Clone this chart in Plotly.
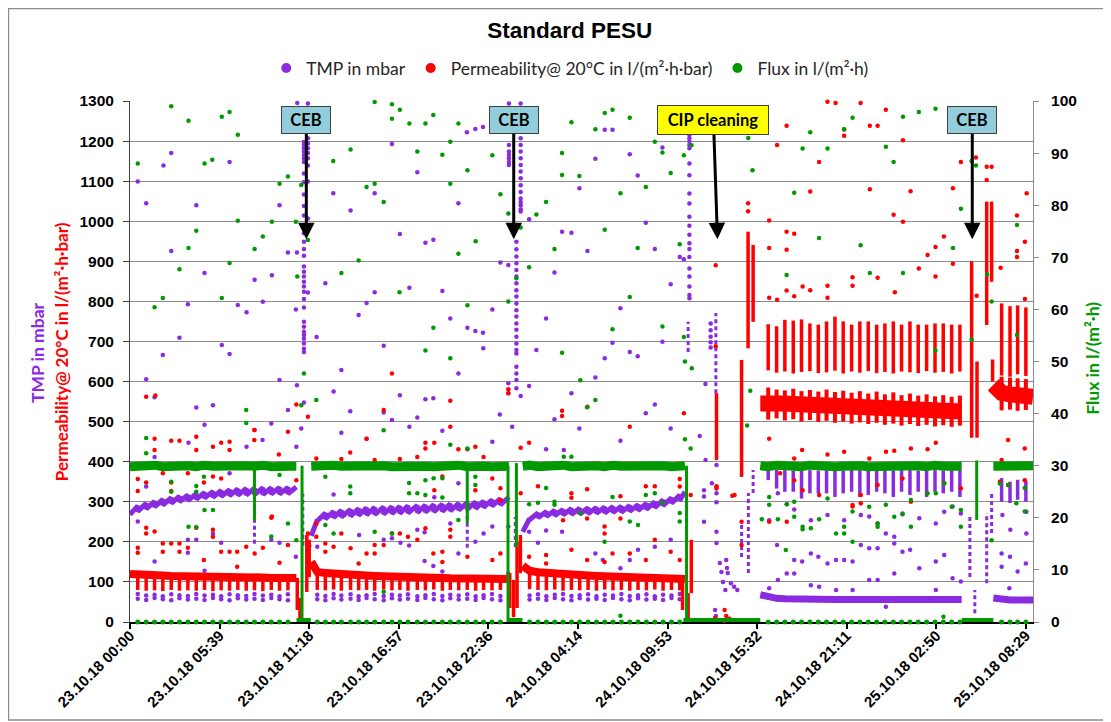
import plotly.graph_objects as go

PURPLE = "#8A2BE2"
RED = "#FF0000"
GREEN = "#009A00"

# ---------------- axis ----------------
tick_hours = [0, 5.65, 11.3, 16.95, 22.6, 28.25, 33.9, 39.55, 45.2, 50.85, 56.5]
tick_labels = ["23.10.18 00:00", "23.10.18 05:39", "23.10.18 11:18", "23.10.18 16:57",
               "23.10.18 22:36", "24.10.18 04:14", "24.10.18 09:53", "24.10.18 15:32",
               "24.10.18 21:11", "25.10.18 02:50", "25.10.18 08:29"]

# ---------------- filtration segment 1 (hours since 23.10.18 00:00) ----------------
s1_t = [0.00, 0.49, 1.02, 1.55, 2.07, 2.60, 3.12, 3.65, 4.18, 4.70, 5.23, 5.75, 6.28, 6.80, 7.33, 7.85, 8.38, 8.91, 9.43, 9.96, 10.49]
s1_tmp_lo = [268, 276, 282, 287, 292, 296, 300, 303, 306, 309, 311, 313, 315, 316, 317, 318, 318, 319, 319, 320]
s1_tmp_hi = [290, 296, 301, 306, 310, 314, 317, 320, 323, 326, 328, 330, 332, 333, 334, 335, 335, 336, 336, 337]
s1_perm = [120, 118, 117, 116, 116, 115, 115, 114, 114, 113, 113, 112, 112, 112, 111, 111, 111, 110, 110, 110, 110]
s1_perm_bw = [80, 78, 79, 77, 80, 78, 79, 78, 80, 77, 79, 78, 80, 78, 79, 77, 80, 78, 79]
s1_flux = [29.8, 30.0, 29.9, 30.1, 29.8, 30.0, 29.9, 30.0, 29.8, 30.1, 29.9, 30.0, 29.8, 29.9, 30.0, 29.9, 30.1, 29.8, 30.0, 29.9, 29.9]
s1_tmp_bw = [70, 66, 68, 64, 69, 67, 65, 70, 66, 68, 64, 69, 67, 65, 70, 66, 68, 64, 69]
s1_tmp_bw2 = [58, 55, 60, 57, 54, 59, 56, 58, 55, 60, 57, 54, 59, 56, 58, 55, 60, 57, 54]

# ---------------- filtration segment 2 ----------------
s2_t = [11.43, 11.81, 12.32, 12.84, 13.33, 13.91, 14.42, 14.92, 15.43, 16.00, 16.52, 17.02, 17.53, 18.12, 18.63, 19.16, 19.70, 20.20, 20.73, 21.27, 21.80, 22.30, 22.83, 23.36, 23.90]
s2_tmp_lo = [215, 252, 257, 260, 262, 264, 266, 267, 268, 269, 270, 271, 272, 273, 274, 275, 276, 277, 279, 281, 283, 286, 289, 292]
s2_tmp_hi = [255, 272, 276, 279, 281, 283, 285, 286, 287, 288, 289, 290, 291, 292, 293, 294, 295, 296, 298, 300, 302, 305, 308, 312]
s2_perm = [150, 125, 122, 120, 119, 118, 117, 116, 115, 114, 114, 113, 112, 112, 111, 110, 110, 109, 109, 108, 108, 108, 107, 107, 107]
s2_perm_bw = [80, 79, 81, 78, 80, 79, 80, 78, 81, 79, 80, 78, 80, 79, 81, 78, 80, 79, 80, 78, 80, 79, 80]
s2_flux = [29.9, 30.0, 29.8, 30.1, 29.9, 30.0, 29.8, 29.9, 30.1, 30.0, 29.8, 29.9, 30.0, 30.1, 29.9, 29.8, 30.0, 29.9, 30.1, 29.8, 30.0, 29.9, 29.8, 30.0, 29.9]
s2_tmp_bw = [68, 65, 70, 66, 69, 64, 67, 70, 65, 68, 66, 69, 64, 67, 70, 65, 68, 66, 69, 64, 67, 70, 65]
s2_tmp_bw2 = [57, 54, 59, 56, 58, 55, 60, 57, 54, 59, 56, 58, 55, 60, 57, 54, 59, 56, 58, 55, 60, 57, 54]

# ---------------- filtration segment 3 ----------------
s3_t = [24.77, 25.20, 25.73, 26.26, 26.79, 27.31, 27.84, 28.36, 28.89, 29.42, 29.94, 30.46, 30.99, 31.52, 32.04, 32.57, 33.10, 33.62, 34.15, 34.67, 35.00]
s3_tmp_lo = [225, 255, 260, 263, 265, 267, 268, 269, 270, 271, 272, 273, 274, 276, 278, 281, 285, 290, 296, 303]
s3_tmp_hi = [258, 272, 276, 279, 281, 283, 284, 285, 286, 287, 288, 289, 291, 293, 296, 300, 305, 310, 317, 325]
s3_perm = [140, 128, 124, 122, 120, 119, 118, 117, 116, 115, 114, 113, 112, 112, 111, 110, 110, 109, 108, 108, 107]
s3_perm_bw = [82, 80, 79, 81, 78, 80, 79, 80, 78, 81, 79, 80, 78, 80, 79, 81, 78, 80, 79]
s3_flux = [29.9, 30.1, 29.8, 30.0, 29.9, 30.1, 29.8, 30.0, 29.9, 30.0, 29.8, 30.1, 29.9, 30.0, 29.8, 29.9, 30.1, 30.0, 29.8, 29.9, 30.0]
s3_tmp_bw = [66, 69, 64, 68, 70, 65, 67, 69, 64, 68, 66, 70, 65, 67, 69, 64, 68, 66, 70]
s3_tmp_bw2 = [56, 58, 55, 60, 57, 54, 59, 56, 58, 55, 60, 57, 54, 59, 56, 58, 55, 60, 57]

# ---------------- filtration segment 4 (after CIP) ----------------
s4_t = [39.75, 40.25, 40.78, 41.30, 41.83, 42.35, 42.88, 43.41, 43.93, 44.46, 44.98, 45.51, 46.03, 46.56, 47.09, 47.61, 48.14, 48.66, 49.19, 49.71, 50.24, 50.77, 51.29, 51.82, 52.34, 52.45]
s4_tmp = [68, 62, 59, 58, 57, 57, 57, 56, 56, 56, 56, 56, 56, 56, 56, 56, 56, 56, 56, 56, 56, 56, 56, 56, 56, 56]
s4_tmp_bar_lo = [354, 333, 325, 325, 308, 321, 321, 321, 312, 321, 325, 312, 317, 325, 321, 312, 325, 317, 325, 312, 325, 321, 325, 312]
s4_tmp_bar_hi = [378, 380, 379, 378, 380, 379, 378, 380, 379, 378, 380, 379, 378, 380, 379, 378, 380, 379, 378, 380, 379, 378, 380, 379]
s4_perm = [545, 548, 546, 545, 544, 543, 542, 541, 540, 540, 539, 538, 537, 536, 535, 534, 533, 532, 531, 530, 529, 528, 527, 526, 525, 525]
s4_perm_lo = [505, 508, 503, 506, 500, 504, 499, 502, 497, 500, 495, 498, 494, 497, 492, 495, 490, 494, 489, 492, 488, 491, 487, 490]
s4_perm_hi = [585, 580, 578, 582, 576, 579, 575, 580, 574, 577, 572, 576, 570, 575, 568, 573, 566, 570, 565, 568, 563, 566, 562, 565]
s4_perm_up_lo = [628, 622, 625, 620, 624, 626, 621, 623, 627, 620, 625, 622, 626, 621, 624, 620, 625, 623, 621, 626, 622, 624, 620, 625]
s4_perm_up_hi = [743, 738, 754, 752, 755, 745, 742, 750, 762, 750, 742, 750, 750, 742, 745, 750, 742, 750, 742, 742, 745, 745, 742, 742]
s4_flux = [30.0, 29.8, 30.1, 29.9, 30.0, 29.8, 30.1, 29.9, 30.0, 29.8, 29.9, 30.1, 30.0, 29.8, 29.9, 30.0, 30.1, 29.8, 29.9, 30.0, 29.8, 30.1, 29.9, 30.0, 29.8, 29.9]

# ---------------- filtration segment 5 (after last CEB) ----------------
s5_t = [54.45, 54.97, 55.50, 55.98, 56.50, 56.95]
s5_tmp = [60, 56, 55, 55, 55, 55]
s5_tmp_bar_lo = [300, 297, 305, 300]
s5_tmp_bar_hi = [359, 350, 355, 352]
s5_perm = [592, 572, 568, 565, 563, 562]
s5_perm_lo = [528, 530, 527, 529]
s5_perm_hi = [612, 610, 608, 606]
s5_perm_up_lo = [615, 612, 618, 614]
s5_perm_up_hi = [795, 788, 790, 785]
s5_flux = [29.9, 30.0, 29.8, 30.0, 29.9, 30.0]

# ---------------- cleaning events: vertical ranges ----------------
ev_tmp_t = [7.85, 21.27, 10.90, 24.30, 35.10, 35.20, 38.57, 38.57, 39.00, 39.30, 52.97, 53.28, 54.03, 54.34, 36.95]
ev_tmp_lo = [195, 185, 190, 187, 196, 674, 362, 162, 122, 322, 112, 22, 97, 222, 571]
ev_tmp_hi = [310, 297, 320, 262, 321, 749, 504, 254, 322, 379, 262, 80, 272, 324, 771]

ev_perm_t = [10.55, 10.72, 11.15, 11.30, 23.95, 24.19, 24.41, 24.62, 34.85, 35.20, 35.40, 36.99, 38.57, 38.98, 39.30, 53.08, 53.42, 54.03, 54.34, 54.40]
ev_perm_lo = [30, 10, 75, 112, 35, 12, 35, 122, 30, 5, 72, 404, 363, 683, 749, 460, 460, 741, 849, 600]
ev_perm_hi = [110, 60, 217, 205, 122, 105, 200, 217, 112, 72, 205, 571, 654, 974, 941, 900, 650, 1049, 1049, 655]

ev_flux_t = [7.85, 10.85, 21.27, 23.84, 24.37, 35.10, 53.40]
ev_flux_lo = [19.5, 0, 19, 0, 14.4, 0, 19.6]
ev_flux_hi = [30, 30, 30, 30, 30.5, 30, 31]

zero_flux_start = [10.50, 23.80, 34.90, 52.45]
zero_flux_end = [11.40, 24.75, 39.75, 54.45]

# dotted TMP columns during CEB / CIP
col_tmp_times = [10.97, 11.22, 23.90, 24.64, 24.37, 35.28, 36.62]
col_tmp_values = [
    [1198, 1190, 1182, 1174, 1165, 1157, 1148, 1119, 1097, 1067, 1038, 1014, 990, 970, 949, 931, 914, 887, 874, 862, 849, 837, 824, 806, 785, 749, 737, 724, 716, 707, 695, 682, 674],
    [1294, 1207, 1194, 1182, 1170, 1157, 1139, 1099, 1007, 822],
    [1294, 1190, 1174, 1165, 1157, 1148, 1140],
    [1294, 1207, 1190, 1174, 1157, 1140, 1124, 1107, 1090, 1073, 1057, 1048, 1040, 1030, 1024],
    [949, 930, 912, 895, 878, 862, 845, 828, 812, 795, 778, 762, 745, 729, 712, 695, 679, 670, 637, 620, 604, 583],
    [1215, 1207, 1199, 1190, 1182, 1144, 1115, 1069, 1044, 1011, 989, 966, 945, 931, 911, 882, 862, 837, 816, 808],
    [745, 728, 712, 698, 685],
]

# ---------------- scattered single readings ----------------
tmp_scatter = [
    (2.60, 1170), (2.11, 1139), (6.28, 1148), (0.49, 1099), (1.02, 1045), (4.18, 1040), (9.43, 1040), (2.60, 926),
    (4.70, 871), (7.86, 854), (8.95, 865), (9.96, 922), (10.53, 922), (3.12, 709), (2.07, 666), (5.79, 691),
    (6.28, 669), (3.65, 793), (6.80, 791), (7.35, 773), (8.38, 799), (10.46, 780), (11.77, 711), (12.32, 845),
    (12.82, 1070), (13.91, 1027), (15.43, 1070), (18.12, 1122), (16.52, 1193), (15.43, 823), (14.92, 796),
    (14.42, 766), (16.00, 689), (17.62, 834), (17.02, 968), (18.63, 946), (19.13, 954), (10.55, 1295),
    (21.25, 1222), (21.78, 1230), (22.26, 1235), (29.35, 1156), (29.94, 1228), (30.43, 1228), (31.52, 1167),
    (33.58, 1184), (32.02, 1114), (28.34, 1082), (20.71, 1045), (25.17, 1005), (27.25, 974), (27.84, 971),
    (28.85, 926), (32.53, 996), (33.10, 931), (23.36, 897), (23.86, 891), (26.77, 872), (19.70, 826), (34.10, 843),
    (34.67, 911), (34.93, 905), (30.93, 783), (22.85, 780), (20.20, 757), (21.28, 734), (21.78, 726), (22.26, 722),
    (26.24, 757), (33.58, 699), (30.43, 697), (22.28, 683), (25.63, 679), (29.94, 658), (31.52, 674), (32.02, 663),
    (1.02, 606), (1.55, 561), (4.18, 535), (4.70, 492), (5.23, 541), (9.43, 604), (9.96, 529), (10.53, 591),
    (10.97, 548), (10.80, 483), (8.91, 495), (7.86, 479), (8.36, 454), (7.35, 437), (3.69, 447), (12.84, 575),
    (13.33, 629), (13.89, 526), (13.33, 472), (14.92, 457), (16.00, 523), (16.52, 504), (17.02, 566), (17.62, 487),
    (18.12, 510), (18.63, 556), (19.13, 558), (1.55, 412), (1.02, 338), (0.49, 251), (3.65, 205), (4.18, 205),
    (5.23, 221), (5.75, 198), (6.28, 371), (8.91, 205), (9.43, 198), (10.49, 437), (10.46, 163), (11.31, 190),
    (11.81, 188), (12.84, 318), (14.45, 217), (16.00, 205), (16.52, 209), (17.06, 198), (18.58, 152), (19.13, 140),
    (18.58, 224), (18.12, 230), (17.60, 191), (1.55, 151), (3.65, 173), (4.70, 128),
    (20.71, 620), (19.70, 477), (23.32, 518), (23.86, 596), (23.86, 571), (24.64, 564), (25.17, 589), (22.85, 450),
    (24.10, 487), (26.24, 431), (26.77, 506), (27.84, 571), (28.34, 483), (29.35, 610), (30.93, 452), (32.53, 521),
    (33.10, 543), (34.10, 483), (35.93, 464), (36.29, 594), (36.30, 404), (36.99, 392), (36.70, 346), (36.99, 321),
    (36.20, 329), (36.20, 313), (36.20, 250), (27.36, 429), (20.71, 346), (19.19, 311), (20.20, 246), (22.30, 221),
    (22.85, 238), (21.78, 200), (23.86, 238), (25.17, 225), (25.73, 198), (26.24, 228), (27.25, 225), (29.35, 171),
    (29.82, 155), (31.52, 155), (32.04, 180), (34.10, 205), (33.10, 188), (19.70, 126), (20.71, 171), (23.86, 121),
    (30.93, 134),
    (36.90, 30), (36.95, 15), (37.00, 5), (37.20, 147), (37.30, 125), (37.40, 100), (37.55, 80), (37.60, 155),
    (37.65, 135), (37.70, 122), (37.90, 97), (38.10, 88), (38.30, 80), (36.99, 337), (36.99, 299), (36.99, 225),
    (36.99, 197),
    (40.31, 254), (40.86, 321), (41.42, 294), (41.89, 281), (42.94, 254), (43.99, 267), (45.04, 254), (46.09, 267),
    (46.62, 263), (47.15, 246), (47.67, 221), (48.20, 213), (48.72, 271), (49.78, 259), (50.82, 246), (51.35, 275),
    (52.40, 271), (51.88, 288), (55.02, 267), (55.52, 230), (56.53, 221), (56.53, 275), (40.81, 192), (41.89, 155),
    (42.39, 151), (42.94, 171), (43.41, 163), (43.99, 146), (44.53, 155), (45.04, 155), (45.57, 151), (46.09, 192),
    (46.62, 184), (47.15, 184), (48.20, 196), (48.72, 175), (49.20, 180), (49.78, 134), (50.82, 151), (51.35, 167),
    (51.88, 109), (52.40, 101), (46.62, 105), (47.15, 105), (48.20, 121), (41.42, 121), (41.89, 121), (40.86, 105),
    (42.94, 92), (54.97, 171), (55.50, 163), (54.97, 138), (55.98, 126), (56.50, 146), (55.46, 84), (40.31, 84),
    (43.46, 88), (44.53, 80), (45.57, 80), (47.67, 38), (50.82, 80),
]

perm_scatter = [
    (1.02, 562), (1.60, 565), (16.52, 620), (16.00, 529), (11.22, 512), (10.49, 543), (9.96, 475), (7.84, 479),
    (7.84, 454), (4.18, 462), (4.18, 429), (2.60, 452), (3.12, 452), (1.55, 457), (1.55, 429), (5.23, 437),
    (5.75, 447), (6.28, 450), (6.28, 429), (9.39, 418), (11.75, 408), (13.33, 407), (13.89, 423), (14.92, 457),
    (15.43, 404), (17.02, 407), (18.63, 447), (18.63, 433), (18.12, 412), (0.49, 357), (0.49, 327), (1.02, 348),
    (2.60, 348), (2.60, 327), (5.23, 363), (5.75, 358), (2.07, 371), (3.65, 371), (4.66, 348), (1.02, 235),
    (1.02, 221), (1.55, 226), (0.49, 185), (0.49, 173), (2.07, 196), (2.07, 175), (2.60, 196), (3.12, 196),
    (3.12, 175), (3.65, 185), (4.18, 235), (4.66, 155), (5.23, 230), (5.23, 213), (5.75, 175), (6.28, 175),
    (6.76, 175), (6.76, 138), (7.33, 188), (7.86, 171), (8.38, 185), (8.91, 260), (9.43, 148), (9.96, 192),
    (11.22, 221), (11.75, 213), (12.32, 196), (12.32, 175), (12.84, 188), (13.33, 221), (13.91, 184), (14.42, 146),
    (14.92, 171), (15.43, 192), (15.43, 171), (16.00, 192), (16.52, 221), (17.02, 221), (17.53, 213), (18.12, 205),
    (18.63, 234), (19.13, 171), (8.95, 263), (10.49, 354), (11.75, 246),
    (20.20, 552), (20.20, 487), (19.19, 447), (23.86, 581), (23.86, 571), (25.17, 447), (24.64, 435), (27.25, 527),
    (27.25, 514), (28.85, 537), (31.52, 487), (34.93, 521), (21.28, 431), (22.30, 412), (21.78, 437), (20.71, 431),
    (19.19, 329), (19.70, 363), (21.78, 329), (22.85, 358), (23.36, 334), (23.36, 304), (25.73, 339), (24.64, 321),
    (27.84, 321), (27.84, 310), (28.83, 331), (30.93, 314), (32.53, 339), (33.10, 339), (34.67, 338), (34.67, 357),
    (29.93, 238), (29.93, 221), (28.83, 258), (30.93, 258), (27.31, 254), (26.24, 167), (26.24, 146), (19.70, 175),
    (19.70, 150), (20.20, 230), (20.20, 213), (21.28, 163), (22.85, 155), (23.36, 171), (25.17, 163), (27.84, 180),
    (28.83, 155), (29.93, 150), (30.43, 171), (31.52, 171), (32.53, 155), (33.10, 205), (34.10, 175), (34.67, 155),
    (35.36, 317), (36.99, 339), (36.99, 333),
    (36.94, 890), (36.94, 688), (36.90, 10), (37.20, 5), (37.50, 3), (37.80, 8), (37.50, 30), (37.60, 15),
    (38.13, 317), (38.57, 250), (38.57, 192),
    (43.99, 1298), (44.50, 1295), (46.08, 1295), (47.67, 1278), (41.41, 1238), (46.66, 1238), (47.15, 1238),
    (45.04, 1213), (45.04, 1229), (40.81, 1190), (48.75, 1202), (43.46, 1148), (52.40, 1148), (42.90, 1074),
    (46.66, 1080), (49.23, 1075), (51.90, 1082), (56.55, 1070), (48.16, 1016), (48.75, 999), (40.31, 1002),
    (41.41, 974), (41.89, 969), (40.31, 933), (41.41, 929), (51.33, 962), (50.80, 936), (50.30, 916), (51.90, 894),
    (49.75, 882), (45.57, 860), (47.15, 859), (50.80, 862), (45.57, 839), (42.42, 837), (42.90, 828), (43.99, 839),
    (41.41, 827), (41.89, 813), (40.31, 809), (40.81, 804), (43.99, 809), (48.24, 823), (53.40, 814), (54.91, 884),
    (55.94, 926), (55.94, 911), (55.94, 1014), (56.44, 949), (56.44, 806), (38.98, 1045), (38.98, 1025),
    (54.03, 1103), (54.03, 1136), (54.34, 1136), (53.35, 1159),
    (40.31, 457), (37.99, 315), (42.39, 429), (41.89, 408), (43.99, 418), (45.04, 425), (46.63, 408), (47.68, 425),
    (48.20, 427), (49.25, 433), (50.30, 431), (50.82, 447), (55.38, 454), (56.43, 433), (54.97, 404), (41.00, 371),
    (41.89, 354), (42.42, 329), (43.46, 317), (45.57, 288), (46.09, 317), (47.15, 342), (48.72, 358), (49.25, 300),
    (51.35, 346), (52.40, 334), (54.86, 350), (55.38, 342), (56.43, 354), (40.31, 250), (41.42, 250), (45.57, 292),
    (46.09, 296),
]

flux_scatter = [
    (2.60, 99.0), (3.69, 96.2), (5.79, 97.0), (6.28, 97.9), (6.80, 93.5), (0.49, 88.0), (4.70, 88.0), (5.19, 88.7),
    (9.96, 85.5), (9.43, 84.1), (10.80, 83.9), (6.80, 77.0), (8.95, 76.8), (10.46, 76.8), (4.18, 75.1), (8.38, 74.0),
    (7.86, 71.6), (3.69, 71.8), (6.28, 68.9), (3.12, 67.7), (10.55, 66.3), (13.33, 67.0), (14.42, 69.4), (2.07, 62.2),
    (1.55, 60.4), (5.79, 62.2), (17.00, 63.3), (15.43, 84.1), (14.92, 83.5), (16.00, 80.6), (12.82, 88.5),
    (13.91, 90.7), (18.12, 90.3), (15.43, 99.8), (16.52, 99.4), (17.02, 98.3), (16.52, 96.6), (17.62, 95.7),
    (18.63, 95.7), (19.13, 97.3), (19.13, 56.5), (18.63, 52.1), (11.22, 73.3),
    (20.71, 95.7), (20.20, 92.2), (19.70, 89.7), (22.85, 89.6), (21.28, 86.7), (20.20, 84.1), (23.36, 82.1),
    (23.86, 78.4), (25.63, 78.2), (26.24, 80.6), (27.25, 90.0), (27.25, 85.8), (28.34, 85.6), (27.84, 95.9),
    (29.35, 94.6), (29.94, 97.7), (30.43, 98.3), (31.52, 96.8), (30.93, 82.3), (32.53, 83.5), (33.10, 92.2),
    (33.58, 90.1), (34.10, 86.2), (34.93, 89.6), (35.41, 91.5), (29.94, 75.3), (26.77, 71.6), (25.17, 68.1),
    (21.80, 73.1), (20.71, 70.7), (32.02, 71.8), (34.67, 72.5), (31.52, 62.4), (23.86, 61.5), (21.28, 60.8),
    (30.43, 56.2), (33.58, 56.7), (34.93, 54.7), (20.20, 50.6), (27.25, 51.7), (35.00, 50.0), (24.64, 75.7),
    (24.37, 66.0),
    (1.02, 35.3), (1.02, 32.4), (2.60, 26.9), (2.60, 25.0), (4.18, 26.1), (4.18, 25.0), (4.66, 27.9), (5.23, 21.5),
    (4.70, 21.5), (3.69, 18.3), (4.18, 18.2), (7.33, 40.7), (7.33, 38.2), (8.91, 16.4), (9.43, 28.2), (9.96, 18.9),
    (10.49, 15.7), (10.80, 41.6), (10.97, 47.7), (11.75, 42.6), (12.32, 27.9), (12.32, 18.6), (12.84, 17.0),
    (13.89, 26.0), (13.89, 24.7), (15.43, 17.3), (16.00, 36.8), (16.52, 17.0), (17.60, 26.7), (17.60, 24.7),
    (18.12, 24.7), (18.63, 27.2), (18.63, 24.4), (16.00, 5.8),
    (28.40, 46.4), (29.35, 42.6), (28.83, 41.2), (20.20, 34.0), (21.28, 33.3), (35.43, 48.7), (35.00, 35.1),
    (35.36, 33.3), (27.36, 31.7), (27.84, 31.7), (19.15, 27.6), (19.70, 27.6), (21.78, 27.9), (21.78, 26.3),
    (25.17, 22.6), (25.73, 22.9), (26.24, 25.7), (26.77, 23.1), (26.77, 22.5), (19.70, 23.9), (28.40, 20.9),
    (30.43, 24.0), (31.52, 19.3), (32.04, 18.6), (32.53, 24.4), (33.10, 24.7), (33.58, 22.9), (34.67, 19.3),
    (34.67, 20.9), (29.93, 15.4), (20.71, 19.6), (30.93, 1.2),
    (38.99, 92.9), (39.26, 86.7), (42.90, 94.0), (42.42, 90.9), (43.99, 90.9), (45.04, 94.6), (45.57, 96.8),
    (47.67, 91.2), (48.16, 88.3), (48.75, 97.0), (49.75, 97.9), (50.80, 98.5), (41.89, 82.4), (43.46, 73.7),
    (46.08, 72.3), (41.41, 66.6), (46.66, 67.0), (48.75, 67.0), (51.90, 71.8), (52.40, 79.3), (53.08, 88.5),
    (53.35, 87.6), (55.94, 76.2), (54.05, 66.7), (54.34, 61.5), (55.94, 55.1), (53.08, 54.2), (50.80, 52.1),
    (39.12, 44.4), (38.92, 37.7), (40.31, 22.5), (40.31, 24.0), (39.85, 19.7), (40.86, 19.7), (41.42, 22.6),
    (41.89, 23.1), (41.89, 20.2), (42.42, 18.3), (42.94, 18.0), (42.42, 17.8), (43.46, 19.7), (43.99, 23.7),
    (44.53, 17.0), (45.04, 18.3), (45.04, 17.0), (45.57, 15.4), (45.57, 21.2), (46.62, 22.1), (47.15, 18.9),
    (47.15, 18.3), (47.67, 22.5), (48.20, 20.2), (48.72, 20.7), (49.25, 23.4), (49.25, 18.3), (50.30, 24.7),
    (50.82, 24.7), (51.35, 26.6), (51.82, 22.1), (52.40, 21.5), (52.40, 18.3), (41.36, 13.8), (51.30, 1.0),
    (54.86, 26.6), (55.38, 26.3), (56.43, 25.7), (56.43, 21.2), (55.90, 22.8), (54.34, 15.7),
]

# event labels
event_names = ["CEB", "CEB", "CIP cleaning", "CEB"]
event_hours = [11.12, 24.20, 37.05, 53.12]
event_box_shift = [0, 0, -4, 0]
event_colors = ["#92CDDC", "#92CDDC", "#FFFF00", "#92CDDC"]
event_widths = [44, 44, 106, 44]
event_heights = [22, 22, 24, 22]


# ---------------- helpers ----------------
def sawtooth(ts, lo, hi):
    xs, ys = [], []
    for i in range(len(lo)):
        xs += [ts[i], ts[i + 1]]
        ys += [lo[i], hi[i]]
    return xs + [None], ys + [None]


def polyline(ts, vals):
    return list(ts) + [None], list(vals) + [None]


def vbars(ts, lo, hi):
    xs, ys = [], []
    for t, a, b in zip(ts, lo, hi):
        xs += [t, t, None]
        ys += [a, b, None]
    return xs, ys


def join(*parts):
    xs, ys = [], []
    for px, py in parts:
        xs += px
        ys += py
    return xs, ys


fig = go.Figure()


def add_lines(xy, color, width, yaxis="y", dash=None):
    fig.add_trace(go.Scatter(x=xy[0], y=xy[1], mode="lines", yaxis=yaxis,
                             line=dict(color=color, width=width, dash=dash),
                             showlegend=False, hoverinfo="skip", connectgaps=False))


def add_points(xs, ys, color, size=4.5, yaxis="y"):
    fig.add_trace(go.Scatter(x=xs, y=ys, mode="markers", yaxis=yaxis,
                             marker=dict(color=color, size=size, line=dict(width=0)),
                             showlegend=False, hoverinfo="skip", cliponaxis=False))


# ---------------- TMP (purple) ----------------
add_lines(join(sawtooth(s1_t, s1_tmp_lo, s1_tmp_hi), sawtooth(s2_t, s2_tmp_lo, s2_tmp_hi),
               sawtooth(s3_t, s3_tmp_lo, s3_tmp_hi)), PURPLE, 5)
add_lines(join(polyline(s4_t, s4_tmp), polyline(s5_t, s5_tmp)), PURPLE, 7)
add_lines(join(vbars(s4_t[1:-1], s4_tmp_bar_lo, s4_tmp_bar_hi), vbars(s5_t[1:-1], s5_tmp_bar_lo, s5_tmp_bar_hi)), PURPLE, 3.5)
add_lines(vbars(ev_tmp_t, ev_tmp_lo, ev_tmp_hi), PURPLE, 3, dash="4px,3px")
bw_x = s1_t[1:-1] + s2_t[1:-1] + s3_t[1:-1]
add_points(bw_x + bw_x, s1_tmp_bw + s2_tmp_bw + s3_tmp_bw + s1_tmp_bw2 + s2_tmp_bw2 + s3_tmp_bw2, PURPLE)
cx, cy = [], []
for t, vals in zip(col_tmp_times, col_tmp_values):
    cx += [t] * len(vals)
    cy += vals
add_points(cx, cy, PURPLE)
add_points([p[0] for p in tmp_scatter], [p[1] for p in tmp_scatter], PURPLE)

# ---------------- Permeability (red) ----------------
add_lines(join(vbars(s1_t[1:-1], s1_perm_bw, s1_perm[1:-1]), vbars(s2_t[1:-1], s2_perm_bw, s2_perm[1:-1]),
               vbars(s3_t[1:-1], s3_perm_bw, s3_perm[1:-1])), RED, 3.5)
add_lines(join(polyline(s1_t, s1_perm), polyline(s2_t, s2_perm), polyline(s3_t, s3_perm)), RED, 8)
add_lines(join(polyline(s4_t, s4_perm), polyline(s5_t, s5_perm)), RED, 16)
add_lines(join(vbars(s4_t[1:-1], s4_perm_lo, s4_perm_hi), vbars(s5_t[1:-1], s5_perm_lo, s5_perm_hi)), RED, 4)
add_lines(join(vbars(s4_t[1:-1], s4_perm_up_lo, s4_perm_up_hi), vbars(s5_t[1:-1], s5_perm_up_lo, s5_perm_up_hi)), RED, 3.5)
add_lines(vbars(ev_perm_t, ev_perm_lo, ev_perm_hi), RED, 3.5)
add_points([p[0] for p in perm_scatter], [p[1] for p in perm_scatter], RED)

# ---------------- Flux (green, right axis) ----------------
add_lines(join(polyline(s1_t, s1_flux), polyline(s2_t, s2_flux), polyline(s3_t, s3_flux),
               polyline(s4_t, s4_flux), polyline(s5_t, s5_flux)), GREEN, 9, yaxis="y2")
add_lines(vbars(ev_flux_t, ev_flux_lo, ev_flux_hi), GREEN, 3, yaxis="y2")
zx, zy = [], []
for a, b in zip(zero_flux_start, zero_flux_end):
    zx += [a, b, None]
    zy += [0, 0, None]
add_lines((zx, zy), GREEN, 8, yaxis="y2")
all_bw = s1_t[1:-1] + s2_t[1:-1] + s3_t[1:-1] + s4_t[1:-1] + s5_t[1:-1]
add_points(all_bw, [0] * len(all_bw), GREEN, size=5, yaxis="y2")
add_points([p[0] for p in flux_scatter], [p[1] for p in flux_scatter], GREEN, yaxis="y2")

# legend-only entries
for name, color in [("TMP in mbar", PURPLE), ("Permeability@ 20°C in l/(m²·h·bar)", RED), ("Flux in l/(m²·h)", GREEN)]:
    fig.add_trace(go.Scatter(x=[None], y=[None], mode="markers", name=name,
                             marker=dict(color=color, size=10)))

# ---------------- annotations ----------------
annotations = []
for name, h, shift, col, w, hh in zip(event_names, event_hours, event_box_shift, event_colors, event_widths, event_heights):
    annotations.append(dict(x=h, y=955, xref="x", yref="y", text="<b>%s</b>" % name,
                            showarrow=True, arrowhead=2, arrowsize=1.1, arrowwidth=3, arrowcolor="black",
                            ax=shift, ay=-119, axref="pixel", ayref="pixel",
                            bgcolor=col, bordercolor="#404040", borderwidth=1, borderpad=2,
                            width=w, height=hh,
                            font=dict(family="Lato", size=16.5, color="black")))

annotations += [
    dict(x=-0.103, y=0.518, xref="paper", yref="paper", xanchor="center", yanchor="middle",
         text="<b>TMP in mbar</b>", textangle=-90,
         showarrow=False, font=dict(family="Lato", size=17.5, color=PURPLE)),
    dict(x=-0.0764, y=0.518, xref="paper", yref="paper", xanchor="center", yanchor="middle",
         text="<b>Permeability@ 20°C in l/(m²·h·bar)</b>",
         textangle=-90, showarrow=False, font=dict(family="Lato", size=17, color=RED)),
    dict(x=1.0664, y=0.507, xref="paper", yref="paper", xanchor="center", yanchor="middle",
         text="<b>Flux in l/(m²·h)</b>", textangle=-90,
         showarrow=False, font=dict(family="Lato", size=17.5, color=GREEN)),
]

# page body has an 8 px margin: figure is 1103 x 714 so the plot sits at x 130-1033, y 101-622
fig.update_layout(
    width=1103, height=714,
    margin=dict(l=122, r=78, t=93, b=100),
    paper_bgcolor="white", plot_bgcolor="white",
    title=dict(text="<b>Standard PESU</b>", x=0.487, xref="paper", xanchor="center",
               y=1 - 22 / 714, yref="container", yanchor="middle",
               font=dict(family="Liberation Sans", size=22.5, color="black")),
    legend=dict(orientation="h", x=0.487, xanchor="center", y=1.063, yanchor="middle",
                font=dict(family="Lato", size=17.5, color="#262626"), bgcolor="rgba(0,0,0,0)",
                itemclick=False),
    xaxis=dict(range=[0, 56.95], tickvals=tick_hours, ticktext=tick_labels, tickangle=-45,
               showgrid=False, zeroline=False, showline=True, linecolor="black", linewidth=2,
               ticks="outside", ticklen=5, tickcolor="black", tickwidth=1.5,
               tickfont=dict(family="Liberation Sans", size=15, color="black", weight="bold"),
               ticklabelstandoff=-8, automargin=False, layer="below traces"),
    yaxis=dict(range=[0, 1300], dtick=100, tick0=0, showgrid=True, gridcolor="#8C8C8C", gridwidth=1,
               zeroline=False, showline=True, linecolor="#404040", linewidth=1,
               ticks="outside", ticklen=6, tickcolor="#404040",
               tickfont=dict(family="Liberation Sans", size=15.5, color="black", weight="bold"),
               ticklabelstandoff=6, automargin=False, layer="below traces"),
    yaxis2=dict(range=[0, 100], dtick=10, tick0=0, overlaying="y", side="right", showgrid=False,
                zeroline=False, showline=True, linecolor="#8C8C8C", linewidth=1,
                ticks="outside", ticklen=5, tickcolor="#8C8C8C",
                tickfont=dict(family="Liberation Sans", size=15.5, color="black", weight="bold"),
                ticklabelstandoff=9, automargin=False, layer="below traces"),
    annotations=annotations,
    shapes=[dict(type="rect", xref="paper", yref="paper", x0=-0.1346, x1=1.0858, y0=-0.188, y1=1.1776,
                 line=dict(color="#8C8C8C", width=1.5), fillcolor="rgba(0,0,0,0)", layer="below")],
    hovermode=False,
)

fig.write_html("out.html")
